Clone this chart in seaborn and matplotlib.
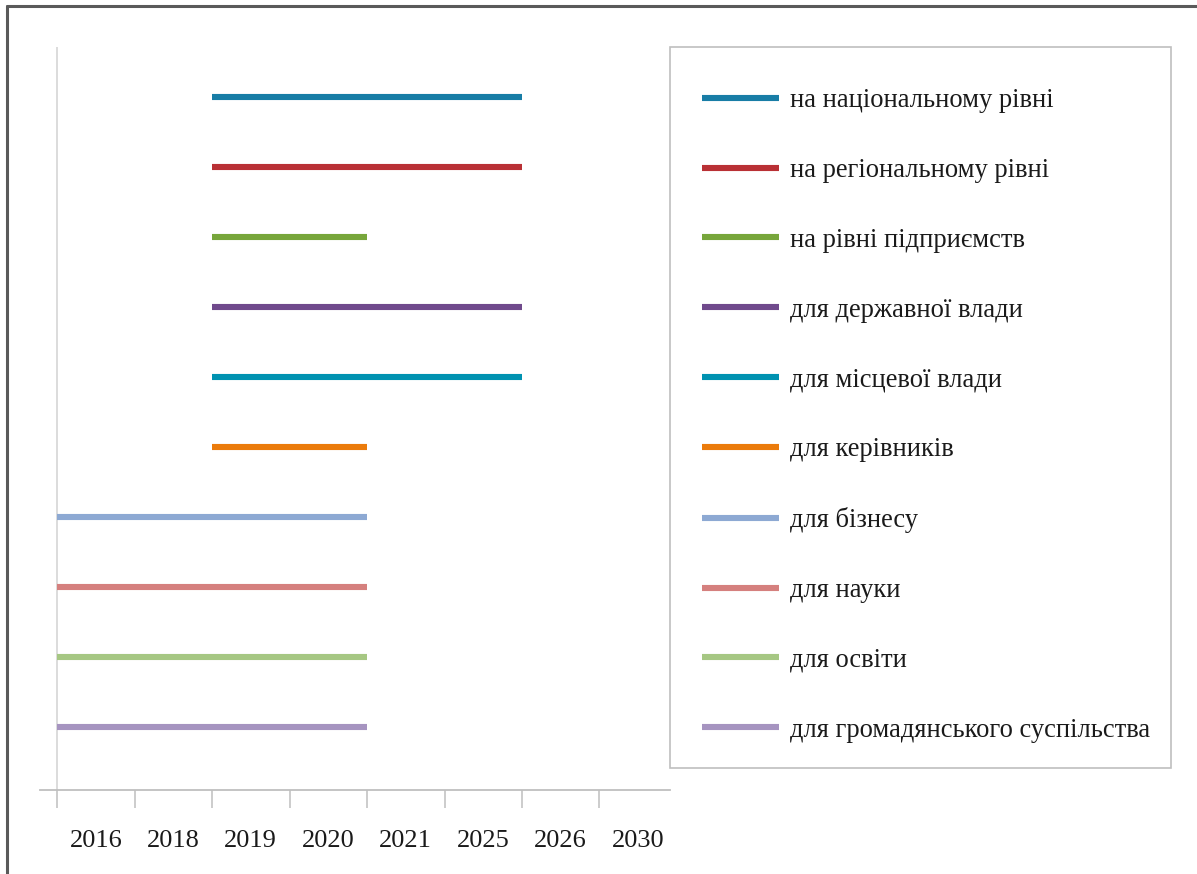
import numpy as np
import pandas as pd
import matplotlib
matplotlib.use("Agg")
import matplotlib.pyplot as plt
import seaborn as sns
from matplotlib.lines import Line2D
from matplotlib.patches import Rectangle

# ---- data ----
years = ["2016", "2018", "2019", "2020", "2021", "2025", "2026", "2030"]
series = [
    "на національному рівні",
    "на регіональному рівні",
    "на рівні підприємств",
    "для державної влади",
    "для місцевої влади",
    "для керівників",
    "для бізнесу",
    "для науки",
    "для освіти",
    "для громадянського суспільства",
]
start_idx = [2, 2, 2, 2, 2, 2, 0, 0, 0, 0]
end_idx = [6, 6, 4, 6, 6, 4, 4, 4, 4, 4]
levels = [10, 9, 8, 7, 6, 5, 4, 3, 2, 1]
colors = ["#187DA6", "#B93035", "#77A63B", "#704A8C", "#0092B1",
          "#EB7B0B", "#8DA9D3", "#D5807E", "#A6C783", "#A694C0"]

rows = []
for s, a, b, v in zip(series, start_idx, end_idx, levels):
    rows.append({"series": s, "x": a, "y": v})
    rows.append({"series": s, "x": b, "y": v})
df = pd.DataFrame(rows)

# ---- figure ----
W, H = 1197, 874
sns.set_style("white")
plt.rcParams["font.family"] = ["Liberation Serif", "DejaVu Serif"]
fig = plt.figure(figsize=(W / 100, H / 100), dpi=100)
ax = fig.add_axes([40 / W, 1 - 790 / H, (670 - 40) / W, (790 - 47) / H])

sns.lineplot(data=df, x="x", y="y", hue="series", hue_order=series,
             palette=dict(zip(series, colors)), estimator=None, sort=False,
             linewidth=4.4, solid_capstyle="butt", ax=ax, legend=True)

ax.set_xlim(-0.22, 7.91)
ax.set_ylim(0.1, 10.71)

# axes styling
for side in ["top", "right", "left"]:
    ax.spines[side].set_visible(False)
ax.spines["bottom"].set_color("#BFBFBF")
ax.spines["bottom"].set_linewidth(1.3)
ax.axvline(0, color="#D9D9D9", lw=1.3, zorder=0)

ax.set_xticks(range(len(years)))
ax.set_xticklabels([])
ax.set_xticks([i + 0.5 for i in range(len(years))], minor=True)
ax.set_xticklabels(years, minor=True)
ax.tick_params(axis="x", which="major", bottom=True, direction="out", length=13,
               width=1.1, color="#BFBFBF")
ax.tick_params(axis="x", which="minor", bottom=True, length=0, pad=29,
               labelsize=19, labelcolor="#1A1A1A")
ax.set_yticks([])
ax.set_xlabel("")
ax.set_ylabel("")

# legend box frame
fig.add_artist(Rectangle((670 / W, 1 - 768 / H), (1171 - 670) / W, (768 - 47) / H,
                         transform=fig.transFigure, fill=False,
                         edgecolor="#BFBFBF", linewidth=1.2))

handles, labels = ax.get_legend_handles_labels()
fs = 19.1
fs_px = fs * 100 / 72
bp = 1.55
x0 = 702 - bp * fs_px
leg = ax.legend(handles, labels,
                loc="upper left",
                bbox_to_anchor=(x0 / W, 1 - 47 / H),
                bbox_transform=fig.transFigure,
                borderaxespad=0, borderpad=bp,
                handlelength=77 / fs_px, handletextpad=11 / fs_px,
                labelspacing=1.69, fontsize=fs, frameon=False,
                labelcolor="#1A1A1A")
for lh in leg.legend_handles:
    lh.set_linewidth(4.4)
    lh.set_solid_capstyle("butt")

# outer frame (left and top edges visible)
fig.add_artist(Line2D([6.5 / W, 6.5 / W], [0, 1 - 5.5 / H], transform=fig.transFigure,
                      color="#5A5A5A", lw=2.2))
fig.add_artist(Line2D([6.5 / W, 1], [1 - 5.5 / H, 1 - 5.5 / H], transform=fig.transFigure,
                      color="#5A5A5A", lw=2.2))

fig.savefig("out.png", dpi=100)
